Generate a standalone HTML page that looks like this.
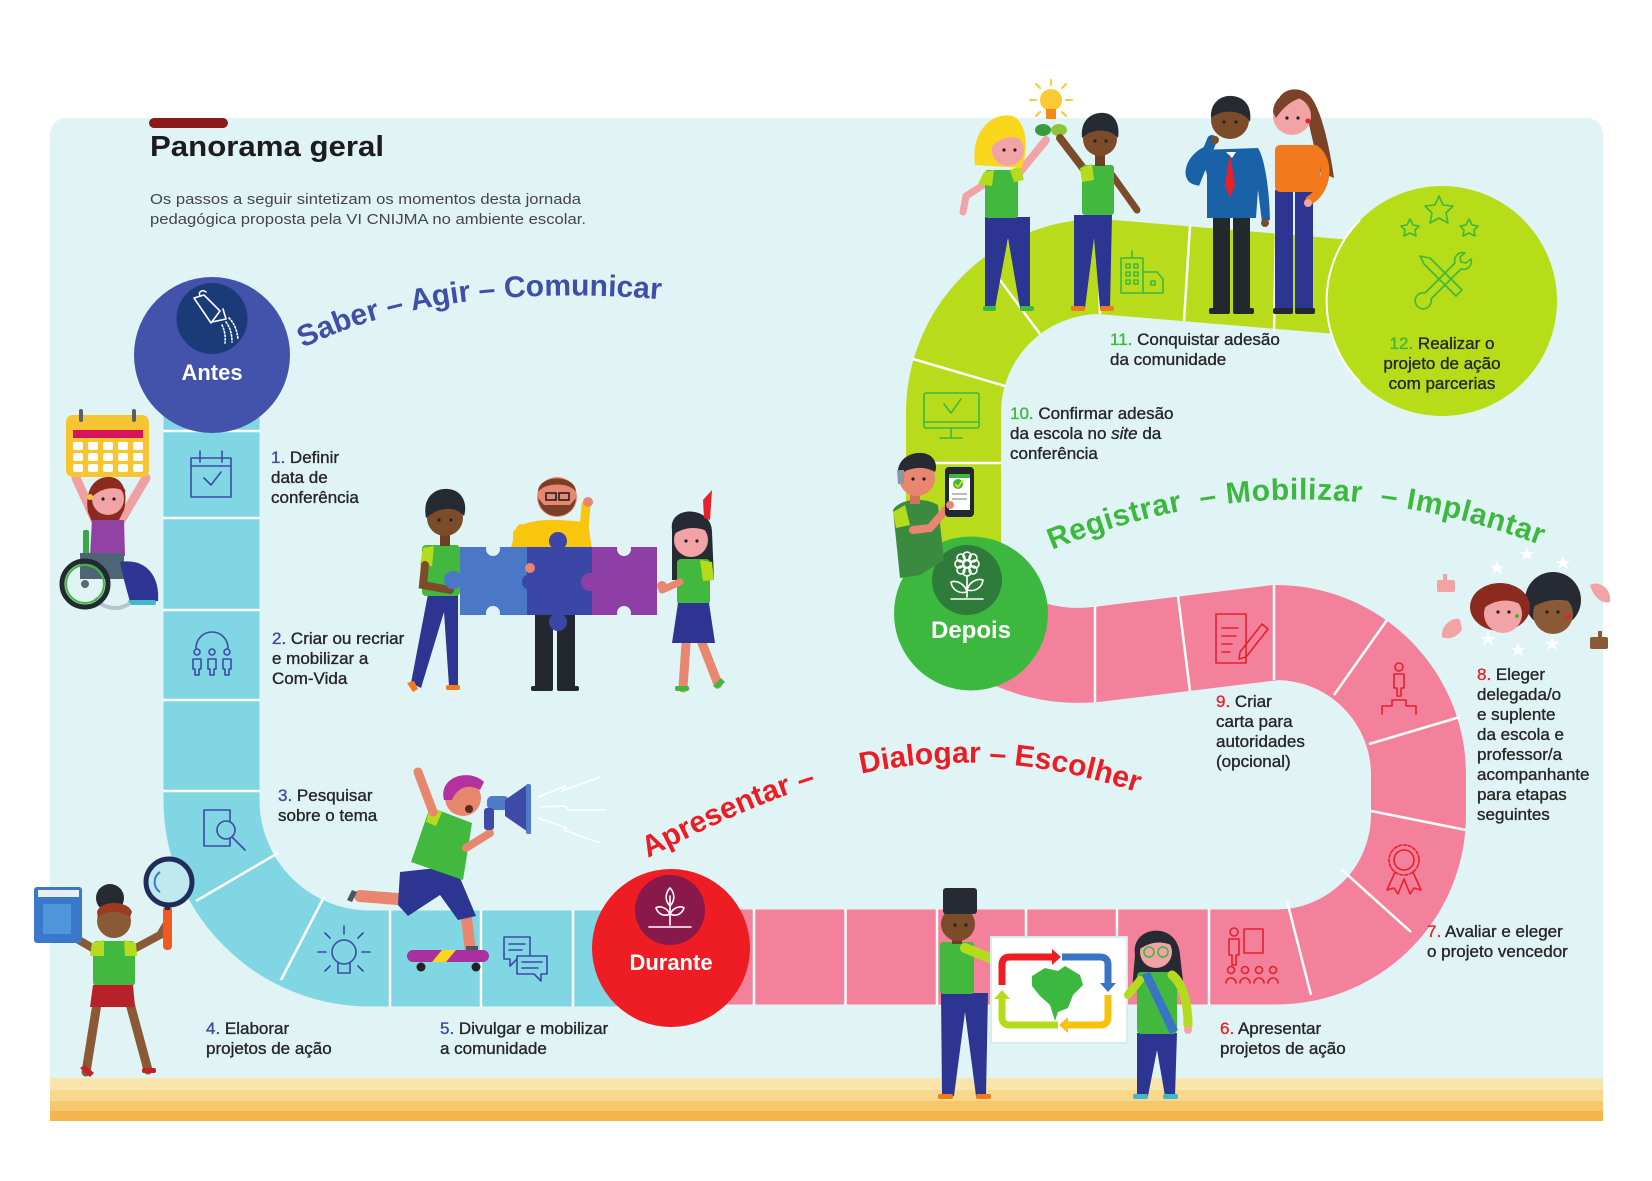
<!DOCTYPE html>
<html><head><meta charset="utf-8"><style>
html,body{margin:0;padding:0;background:#fff;}
svg{display:block;}
text{font-family:"Liberation Sans",Arial,sans-serif;}
.lb{font-size:17px;fill:#262626;stroke:#262626;stroke-width:0.35;}
.bl{fill:#3d4aa6;stroke:#3d4aa6;}
.rd{fill:#ec2027;stroke:#ec2027;}
.gr{fill:#3db83f;stroke:#3db83f;}
.ic{fill:none;stroke:#3d4aa6;stroke-width:1.6;stroke-linejoin:round;stroke-linecap:round;}
.icr{fill:none;stroke:#e8202a;stroke-width:1.6;stroke-linejoin:round;stroke-linecap:round;}
.icg{fill:none;stroke:#3db83f;stroke-width:1.6;stroke-linejoin:round;stroke-linecap:round;}
.icw{fill:none;stroke:#fff;stroke-width:1.6;stroke-linejoin:round;stroke-linecap:round;}
.dv{stroke:#ffffff;stroke-width:2.5;}
</style></head><body>
<svg width="1652" height="1181" viewBox="0 0 1652 1181" xmlns="http://www.w3.org/2000/svg">
<!-- panel -->
<rect x="50" y="118" width="1553" height="1003" rx="16" fill="#e0f4f5"/>
<rect x="50" y="1078" width="1553" height="12" fill="#f9e5ab"/>
<rect x="50" y="1090" width="1553" height="11" fill="#f7d88c"/>
<rect x="50" y="1101" width="1553" height="10" fill="#f5c86c"/>
<rect x="50" y="1111" width="1553" height="10" fill="#f3b54c"/>

<!-- title -->
<rect x="149" y="118" width="79" height="10" rx="5" fill="#8b1a1e"/>
<text x="150" y="156" font-size="29" font-weight="bold" fill="#1c1c1c" textLength="234" lengthAdjust="spacingAndGlyphs">Panorama geral</text>
<text x="150" y="204" font-size="15" fill="#454545" textLength="431" lengthAdjust="spacingAndGlyphs">Os passos a seguir sintetizam os momentos desta jornada</text>
<text x="150" y="224" font-size="15" fill="#454545" textLength="436" lengthAdjust="spacingAndGlyphs">pedagógica proposta pela VI CNIJMA no ambiente escolar.</text>

<!-- paths -->
<path d="M211.5 380 L211.5 800 A158.5 158.5 0 0 0 370 958.5 L700 958.5" stroke="#80d6e2" stroke-width="96" fill="none"/>
<path d="M671 957 L1276 957 A142.5 142.5 0 0 0 1418.5 814.5 L1418.5 775 A142.5 142.5 0 0 0 1276 632.5 L1100 654 C1060 659 1020 652 971 618" stroke="#f4819b" stroke-width="95" fill="none"/>
<path d="M953.5 600 L953.5 413 A146.5 146.5 0 0 1 1100 266.5 L1380 290" stroke="#b8dc1b" stroke-width="95" fill="none"/>

<!-- blue dividers -->
<g class="dv">
<line x1="163" y1="431" x2="260" y2="431"/>
<line x1="163" y1="518" x2="260" y2="518"/>
<line x1="163" y1="610" x2="260" y2="610"/>
<line x1="163" y1="700" x2="260" y2="700"/>
<line x1="163" y1="791" x2="260" y2="791"/>
<line x1="278" y1="853" x2="196" y2="901"/>
<line x1="324" y1="897" x2="281" y2="980"/>
<line x1="390" y1="910" x2="390" y2="1007"/>
<line x1="481" y1="910" x2="481" y2="1007"/>
<line x1="573" y1="910" x2="573" y2="1007"/>
<!-- pink -->
<line x1="754" y1="909" x2="754" y2="1005"/>
<line x1="845.5" y1="909" x2="845.5" y2="1005"/>
<line x1="937" y1="909" x2="937" y2="1005"/>
<line x1="1026" y1="909" x2="1026" y2="1005"/>
<line x1="1117" y1="909" x2="1117" y2="1005"/>
<line x1="1209" y1="909" x2="1209" y2="1005"/>
<line x1="1287" y1="901" x2="1311" y2="995"/>
<line x1="1341" y1="869" x2="1411" y2="932"/>
<line x1="1371" y1="811" x2="1466" y2="830"/>
<line x1="1369" y1="744" x2="1460" y2="717"/>
<line x1="1334" y1="695" x2="1387" y2="620"/>
<line x1="1274" y1="585" x2="1274" y2="680"/>
<line x1="1178" y1="596" x2="1190" y2="691"/>
<line x1="1095" y1="606" x2="1095" y2="702"/>
<!-- green -->
<line x1="905" y1="463" x2="1001" y2="463"/>
<line x1="913" y1="359" x2="1005" y2="386"/>
<line x1="997" y1="276" x2="1040" y2="334"/>
<line x1="1098" y1="220" x2="1100" y2="314"/>
<line x1="1190" y1="226" x2="1184" y2="321"/>
<line x1="1276" y1="233" x2="1274" y2="331"/>
</g>

<!-- blue icons -->
<g class="ic">
<rect x="191" y="458" width="40" height="39"/><line x1="191" y1="466" x2="231" y2="466"/>
<line x1="200" y1="451" x2="200" y2="462"/><line x1="222" y1="451" x2="222" y2="462"/>
<polyline points="204,478 211,485 221,472"/>
<path d="M196 648 A16 16 0 0 1 228 648"/>
<circle cx="197" cy="652" r="3"/><circle cx="212" cy="652" r="3"/><circle cx="227" cy="652" r="3"/>
<path d="M193 659 h8 v10 h-2 v6 h-4 v-6 h-2z"/><path d="M208 659 h8 v10 h-2 v6 h-4 v-6 h-2z"/><path d="M223 659 h8 v10 h-2 v6 h-4 v-6 h-2z"/>
<rect x="204" y="810" width="26" height="36"/><circle cx="226" cy="830" r="9" fill="#80d6e2"/><line x1="232" y1="837" x2="245" y2="850"/>
<circle cx="344" cy="952" r="12"/><path d="M338 963 v10 h12 v-10"/><line x1="344" y1="926" x2="344" y2="934"/>
<line x1="318" y1="952" x2="326" y2="952"/><line x1="362" y1="952" x2="370" y2="952"/>
<line x1="325" y1="933" x2="330" y2="938"/><line x1="363" y1="933" x2="358" y2="938"/>
<line x1="325" y1="971" x2="330" y2="966"/><line x1="363" y1="971" x2="358" y2="966"/>
<path d="M504 937 h26 v22 h-13 l-7 7 v-7 h-6z"/><line x1="509" y1="944" x2="525" y2="944"/><line x1="509" y1="950" x2="522" y2="950"/>
<path d="M517 956 h30 v18 h-6 v7 l-7 -7 h-17z" fill="#80d6e2"/><line x1="522" y1="962" x2="542" y2="962"/><line x1="522" y1="968" x2="538" y2="968"/>
</g>

<!-- pink icons -->
<g class="icr">
<rect x="1216" y="614" width="30" height="49"/>
<line x1="1222" y1="628" x2="1238" y2="628"/><line x1="1222" y1="636" x2="1236" y2="636"/><line x1="1222" y1="644" x2="1232" y2="644"/><line x1="1222" y1="652" x2="1230" y2="652"/>
<path d="M1240 652 l22 -28 l6 5 l-22 28 l-7 2z"/>
<circle cx="1399" cy="667" r="4"/><path d="M1394 674 h10 v14 h-3 v8 h-4 v-8 h-3z"/>
<path d="M1382 714 v-8 h10 v-6 h14 v6 h10 v8"/>
<circle cx="1404" cy="860" r="10"/><circle cx="1404" cy="860" r="15" stroke-dasharray="3 2"/>
<path d="M1395 872 l-8 18 l7 -2 l4 6 l6 -15"/><path d="M1413 872 l8 18 l-7 -2 l-4 6 l-6 -15"/>
<circle cx="1234" cy="932" r="4"/><path d="M1229 939 h10 v16 h-3 v10 h-4 v-10 h-3z"/>
<rect x="1244" y="929" width="19" height="24"/>
<circle cx="1231" cy="970" r="3.5"/><circle cx="1245" cy="970" r="3.5"/><circle cx="1259" cy="970" r="3.5"/><circle cx="1273" cy="970" r="3.5"/>
<path d="M1226 983 a5 5 0 0 1 10 0 M1240 983 a5 5 0 0 1 10 0 M1254 983 a5 5 0 0 1 10 0 M1268 983 a5 5 0 0 1 10 0"/>
</g>

<!-- green icons -->
<g class="icg">
<rect x="1121" y="258" width="22" height="35"/><line x1="1132" y1="251" x2="1132" y2="258"/>
<rect x="1126" y="264" width="4" height="4"/><rect x="1134" y="264" width="4" height="4"/>
<rect x="1126" y="272" width="4" height="4"/><rect x="1134" y="272" width="4" height="4"/>
<rect x="1126" y="280" width="4" height="4"/><rect x="1134" y="280" width="4" height="4"/>
<path d="M1143 272 h14 l6 7 v14 h-20"/><rect x="1151" y="281" width="4" height="4"/>
<rect x="924" y="393" width="55" height="35" rx="2"/><line x1="924" y1="422" x2="979" y2="422"/>
<line x1="951" y1="428" x2="951" y2="437"/><line x1="940" y1="438" x2="962" y2="438"/>
<polyline points="944,404 951,413 961,399"/>
</g>

<!-- circles -->
<circle cx="212" cy="355" r="78" fill="#4352aa"/>
<circle cx="212" cy="318.5" r="35.5" fill="#1b3a78"/>
<g class="icw">
<path d="M194 298 l10 -3 l16 16 l-9 12 z"/>
<path d="M212 322 l14 -3 l-3 -10"/>
<path d="M200 296 c-2 -4 2 -7 6 -4"/>
<path d="M226 322 q6 8 6 20" stroke-dasharray="1.5 2"/>
<path d="M222 325 q4 8 3 18" stroke-dasharray="1.5 2"/>
<path d="M229 318 q8 8 9 22" stroke-dasharray="1.5 2"/>
</g>
<text x="212" y="380" font-size="22" font-weight="bold" fill="#fff" text-anchor="middle">Antes</text>

<circle cx="671" cy="948" r="79" fill="#ee1d24"/>
<circle cx="670" cy="910" r="35" fill="#88194a"/>
<g class="icw">
<line x1="670" y1="896" x2="670" y2="925"/>
<path d="M670 906 c-6 -6 -4 -14 0 -18 c4 4 6 12 0 18z"/>
<path d="M670 914 c-4 -8 -12 -8 -14 -6 c2 6 8 9 14 6z"/>
<path d="M670 914 c4 -8 12 -8 14 -6 c-2 6 -8 9 -14 6z"/>
<line x1="649" y1="927" x2="691" y2="927"/>
</g>
<text x="671" y="970" font-size="22" font-weight="bold" fill="#fff" text-anchor="middle">Durante</text>

<circle cx="971" cy="613.5" r="77" fill="#3db83f"/>
<circle cx="967" cy="580" r="35" fill="#2f7b3b"/>
<g class="icw">
<circle cx="967" cy="564" r="3.5"/>
<circle cx="967" cy="556" r="4"/><circle cx="967" cy="572" r="4"/><circle cx="959" cy="564" r="4"/><circle cx="975" cy="564" r="4"/>
<circle cx="961" cy="558" r="4"/><circle cx="973" cy="558" r="4"/><circle cx="961" cy="570" r="4"/><circle cx="973" cy="570" r="4"/>
<line x1="967" y1="576" x2="967" y2="597"/>
<path d="M967 592 c-2 -8 -10 -12 -16 -10 c1 8 8 12 16 10z"/>
<path d="M967 590 c2 -8 10 -12 16 -10 c-1 8 -8 12 -16 10z"/>
<line x1="951" y1="599" x2="983" y2="599"/>
</g>
<text x="971" y="638" font-size="24" font-weight="bold" fill="#fff" text-anchor="middle">Depois</text>

<circle cx="1442" cy="301" r="115" fill="#b7dc18"/>
<path d="M1360 220 A115 115 0 0 0 1360 382" stroke="#fff" stroke-width="2" fill="none"/>
<g class="icg">
<path d="M1439 196 l4 9 l10 1 l-7 7 l2 10 l-9 -5 l-9 5 l2 -10 l-7 -7 l10 -1z"/>
<path d="M1410 219 l3 6 l6 1 l-4 4 l1 6 l-6 -3 l-6 3 l1 -6 l-4 -4 l6 -1z"/>
<path d="M1469 219 l3 6 l6 1 l-4 4 l1 6 l-6 -3 l-6 3 l1 -6 l-4 -4 l6 -1z"/>
<path d="M1420 256 l10 2 l32 32 l-6 6 l-32 -32z"/>
<path d="M1465 253 a8 8 0 0 0 -10 10 l-30 30 a8 8 0 1 0 6 6 l30 -30 a8 8 0 0 0 10 -10 l-5 4 l-5 -1 l-1 -5z"/>
</g>

<!-- curved titles -->
<defs>
<path id="p1" d="M303 348 Q440 280 670 300"/>
<path id="p2" d="M1052 550 Q1295 450 1548 548"/>
<path id="p3" d="M648 858 C780 790 930 720 1145 795"/>
</defs>
<text font-size="30" font-weight="bold" fill="#3f4fa8"><textPath href="#p1">Saber – Agir – Comunicar</textPath></text>
<text font-size="30" font-weight="bold" fill="#3db83f" letter-spacing="0.6"><textPath href="#p2">Registrar&#160;&#160;– Mobilizar&#160;&#160;– Implantar</textPath></text>
<text font-size="30" font-weight="bold" fill="#ec1c24"><textPath href="#p3">Apresentar –</textPath></text>
<text font-size="30" font-weight="bold" fill="#ec1c24"><textPath href="#p3" startOffset="230">Dialogar – Escolher</textPath></text>

<!-- labels -->
<text class="lb"><tspan x="271" y="463"><tspan class="bl">1.</tspan> Definir</tspan><tspan x="271" y="483">data de</tspan><tspan x="271" y="503">conferência</tspan></text>
<text class="lb"><tspan x="272" y="644"><tspan class="bl">2.</tspan> Criar ou recriar</tspan><tspan x="272" y="664">e mobilizar a</tspan><tspan x="272" y="684">Com-Vida</tspan></text>
<text class="lb"><tspan x="278" y="801"><tspan class="bl">3.</tspan> Pesquisar</tspan><tspan x="278" y="821">sobre o tema</tspan></text>
<text class="lb"><tspan x="206" y="1034"><tspan class="bl">4.</tspan> Elaborar</tspan><tspan x="206" y="1054">projetos de ação</tspan></text>
<text class="lb"><tspan x="440" y="1034"><tspan class="bl">5.</tspan> Divulgar e mobilizar</tspan><tspan x="440" y="1054">a comunidade</tspan></text>
<text class="lb"><tspan x="1220" y="1034"><tspan class="rd">6.</tspan> Apresentar</tspan><tspan x="1220" y="1054">projetos de ação</tspan></text>
<text class="lb"><tspan x="1427" y="937"><tspan class="rd">7.</tspan> Avaliar e eleger</tspan><tspan x="1427" y="957">o projeto vencedor</tspan></text>
<text class="lb"><tspan x="1477" y="680"><tspan class="rd">8.</tspan> Eleger</tspan><tspan x="1477" y="700">delegada/o</tspan><tspan x="1477" y="720">e suplente</tspan><tspan x="1477" y="740">da escola e</tspan><tspan x="1477" y="760">professor/a</tspan><tspan x="1477" y="780">acompanhante</tspan><tspan x="1477" y="800">para etapas</tspan><tspan x="1477" y="820">seguintes</tspan></text>
<text class="lb"><tspan x="1216" y="707"><tspan class="rd">9.</tspan> Criar</tspan><tspan x="1216" y="727">carta para</tspan><tspan x="1216" y="747">autoridades</tspan><tspan x="1216" y="767">(opcional)</tspan></text>
<text class="lb"><tspan x="1010" y="419"><tspan class="gr">10.</tspan> Confirmar adesão</tspan><tspan x="1010" y="439">da escola no <tspan font-style="italic">site</tspan> da</tspan><tspan x="1010" y="459">conferência</tspan></text>
<text class="lb"><tspan x="1110" y="345"><tspan class="gr">11.</tspan> Conquistar adesão</tspan><tspan x="1110" y="365">da comunidade</tspan></text>
<text class="lb" text-anchor="middle"><tspan x="1442" y="349"><tspan class="gr">12.</tspan> Realizar o</tspan><tspan x="1442" y="369">projeto de ação</tspan><tspan x="1442" y="389">com parcerias</tspan></text>

<!-- wheelchair girl -->
<g>
<path d="M96 522 L76 478" stroke="#f0a0a0" stroke-width="9" stroke-linecap="round"/>
<path d="M120 522 L146 478" stroke="#f0a0a0" stroke-width="9" stroke-linecap="round"/>
<rect x="66" y="415" width="83" height="62" rx="7" fill="#f6c531"/>
<rect x="79" y="409" width="4" height="13" rx="2" fill="#59606b"/>
<rect x="132" y="409" width="4" height="13" rx="2" fill="#59606b"/>
<rect x="73" y="430" width="70" height="8" fill="#d7145b"/>
<g fill="#fff">
<rect x="73" y="442" width="10" height="8" rx="2"/><rect x="88" y="442" width="10" height="8" rx="2"/><rect x="103" y="442" width="10" height="8" rx="2"/><rect x="118" y="442" width="10" height="8" rx="2"/><rect x="133" y="442" width="10" height="8" rx="2"/>
<rect x="73" y="453" width="10" height="8" rx="2"/><rect x="88" y="453" width="10" height="8" rx="2"/><rect x="103" y="453" width="10" height="8" rx="2"/><rect x="118" y="453" width="10" height="8" rx="2"/><rect x="133" y="453" width="10" height="8" rx="2"/>
<rect x="73" y="464" width="10" height="8" rx="2"/><rect x="88" y="464" width="10" height="8" rx="2"/><rect x="103" y="464" width="10" height="8" rx="2"/><rect x="118" y="464" width="10" height="8" rx="2"/><rect x="133" y="464" width="10" height="8" rx="2"/>
</g>
<path d="M88 512 C84 488 96 476 110 477 C124 478 128 494 124 510 L118 522 L92 522 Z" fill="#8c2a20"/>
<circle cx="108" cy="499" r="16" fill="#f1a3a5"/>
<path d="M92 494 C96 478 120 476 126 492 C116 486 102 487 92 497 Z" fill="#8c2a20"/>
<circle cx="103" cy="499" r="1.6" fill="#222"/><circle cx="114" cy="499" r="1.6" fill="#222"/>
<circle cx="90" cy="497" r="3" fill="#f6c531"/>
<path d="M92 520 L124 520 L125 556 L90 556 Z" fill="#9241a4"/>
<rect x="83" y="530" width="6" height="40" rx="2" fill="#3aa845"/>
<rect x="80" y="553" width="44" height="26" fill="#4e6575"/>
<path d="M120 562 C145 558 160 575 158 601 L130 602 L124 580 Z" fill="#2e3592"/>
<rect x="128" y="600" width="28" height="5" rx="2" fill="#41b8c9"/>
<path d="M95 598 A25 25 0 0 0 130 603" stroke="#b8c4cc" stroke-width="4" fill="none"/>
<circle cx="85" cy="584" r="23" fill="none" stroke="#222a30" stroke-width="5"/>
<circle cx="85" cy="584" r="19" fill="none" stroke="#3db83f" stroke-width="2"/>
<circle cx="85" cy="584" r="4" fill="#5a6775"/>
</g>

<!-- puzzle group -->
<g>
<!-- boy -->
<path d="M428 594 L458 594 L458 686 L449 686 L444 612 L421 688 L411 683 Z" fill="#2d3592"/>
<rect x="446" y="685" width="14" height="5" rx="2" fill="#f07a1c"/>
<path d="M407 683 l6 9 l5 -3 l-4 -8z" fill="#f07a1c"/>
<rect x="422" y="545" width="38" height="51" rx="4" fill="#43b83e"/>
<path d="M423 548 L434 546 L432 566 L420 565 Z" fill="#b5dc1c"/>
<path d="M425 565 L423 585 L450 590" stroke="#7b4b2a" stroke-width="8" fill="none" stroke-linecap="round"/>
<rect x="440" y="530" width="10" height="16" fill="#6b3f22"/>
<circle cx="445" cy="518" r="18" fill="#7b4b2a"/>
<path d="M426 518 C422 496 436 488 448 489 C462 490 468 503 464 516 C456 506 440 506 426 518Z" fill="#262b33"/>
<circle cx="439" cy="520" r="1.6" fill="#222"/><circle cx="451" cy="520" r="1.6" fill="#222"/>
<!-- man -->
<rect x="535" y="612" width="18" height="76" fill="#23282e"/>
<rect x="557" y="612" width="18" height="76" fill="#23282e"/>
<rect x="531" y="686" width="22" height="5" rx="2" fill="#23282e"/><rect x="557" y="686" width="22" height="5" rx="2" fill="#23282e"/>
<path d="M513 532 C520 522 540 519 560 520 L588 522 L592 550 L513 550 Z" fill="#fac50d"/>
<path d="M522 530 L517 548 L530 568" stroke="#fac50d" stroke-width="12" fill="none" stroke-linecap="round"/>
<path d="M584 530 L586 505" stroke="#fac50d" stroke-width="9" stroke-linecap="round"/>
<circle cx="588" cy="502" r="5" fill="#e8866f"/>
<circle cx="557" cy="497" r="20" fill="#e8866f"/>
<path d="M538 498 C540 522 574 522 576 498 L570 505 L544 505 Z" fill="#7a4027"/>
<path d="M538 492 C538 474 576 474 576 492 C570 482 545 482 538 492Z" fill="#7a4027"/>
<rect x="546" y="493" width="10" height="7" fill="none" stroke="#222" stroke-width="1.6"/>
<rect x="559" y="493" width="10" height="7" fill="none" stroke="#222" stroke-width="1.6"/>
<!-- girl -->
<path d="M672 530 C668 505 712 505 712 532 L714 580 L672 580 Z" fill="#262b33"/>
<path d="M703 500 L712 490 L710 520 L704 518Z" fill="#e8202a"/>
<circle cx="691" cy="540" r="17" fill="#f1a3a5"/>
<path d="M673 535 C676 518 706 516 710 533 C700 526 684 526 673 535Z" fill="#262b33"/>
<circle cx="686" cy="541" r="1.6" fill="#222"/><circle cx="697" cy="541" r="1.6" fill="#222"/>
<path d="M686 643 L683 688" stroke="#e8866f" stroke-width="9" stroke-linecap="round"/>
<path d="M702 643 L718 684" stroke="#e8866f" stroke-width="9" stroke-linecap="round"/>
<rect x="675" y="686" width="14" height="5" rx="2" fill="#3db83f"/>
<path d="M713 686 l8 -8 l4 4 l-8 7z" fill="#3db83f"/>
<rect x="677" y="559" width="33" height="46" rx="4" fill="#43b83e"/>
<path d="M700 560 L712 562 L714 580 L703 581 Z" fill="#b5dc1c"/>
<path d="M680 582 L662 590" stroke="#e8866f" stroke-width="7" stroke-linecap="round"/>
<path d="M678 603 L709 603 L715 643 L672 643 Z" fill="#2d3592"/>
<!-- puzzle pieces -->
<rect x="460" y="547" width="67" height="68" fill="#4a77c6"/>
<rect x="527" y="547" width="65" height="68" fill="#3a47a6"/>
<rect x="592" y="547" width="65" height="68" fill="#8d3fa6"/>
<circle cx="453" cy="580" r="9" fill="#4a77c6"/>
<circle cx="493" cy="549" r="7" fill="#e0f4f5"/><circle cx="493" cy="613" r="7" fill="#e0f4f5"/>
<circle cx="558" cy="541" r="9" fill="#3a47a6"/><circle cx="558" cy="622" r="9" fill="#3a47a6"/>
<circle cx="530" cy="582" r="8" fill="#3a47a6"/>
<circle cx="590" cy="582" r="9" fill="#8d3fa6"/>
<circle cx="624" cy="549" r="7" fill="#e0f4f5"/><circle cx="624" cy="613" r="7" fill="#e0f4f5"/>
<circle cx="530" cy="568" r="5" fill="#e8866f"/>
<circle cx="662" cy="586" r="5" fill="#e8866f"/>
</g>

<!-- skateboard boy -->
<g>
<path d="M410 900 L360 896" stroke="#e8866f" stroke-width="12" stroke-linecap="round"/>
<path d="M352 890 l-5 10 l5 2 l5 -10z" fill="#4a5560"/>
<path d="M465 905 L470 948" stroke="#e8866f" stroke-width="11" stroke-linecap="round"/>
<rect x="466" y="946" width="12" height="5" fill="#4a5560"/>
<path d="M400 872 L455 866 L476 916 L458 920 L440 895 L408 916 L398 905 Z" fill="#2d3592"/>
<path d="M430 807 L472 823 L463 880 L411 862 Z" fill="#43b83e"/>
<path d="M430 807 L442 812 L436 826 L426 822 Z" fill="#b5dc1c"/>
<path d="M433 812 L418 772" stroke="#e8866f" stroke-width="9" stroke-linecap="round"/>
<path d="M466 848 L490 833" stroke="#e8866f" stroke-width="8" stroke-linecap="round"/>
<circle cx="463" cy="798" r="18" fill="#e8866f"/>
<path d="M444 800 C438 776 470 768 484 782 L480 790 C470 784 458 786 452 800 Z" fill="#b3329f"/>
<circle cx="469" cy="809" r="4" fill="#5a2a1a"/>
<rect x="487" y="796" width="22" height="14" rx="5" fill="#4f7ac9"/>
<rect x="484" y="808" width="10" height="22" rx="3" fill="#3d4aa6"/>
<path d="M505 800 L528 784 L531 834 L505 816 Z" fill="#3d4aa6"/>
<rect x="526" y="784" width="5" height="50" rx="2" fill="#4f7ac9"/>
<g stroke="#fff" stroke-width="1.5" fill="none">
<polyline points="538,797 565,786 562,791 600,777"/>
<polyline points="541,807 565,806 568,810 606,810"/>
<polyline points="538,818 567,828 564,830 600,843"/>
</g>
<rect x="407" y="950" width="82" height="12" rx="6" fill="#a8319f"/>
<path d="M432 962 L442 950 L456 950 L446 962 Z" fill="#f9d71c"/>
<circle cx="421" cy="967" r="4.5" fill="#222"/><circle cx="476" cy="967" r="4.5" fill="#222"/>
</g>

<!-- girl with book -->
<g>
<path d="M100 985 L86 1072" stroke="#8a5a36" stroke-width="9" stroke-linecap="round"/>
<path d="M125 985 L148 1070" stroke="#8a5a36" stroke-width="9" stroke-linecap="round"/>
<path d="M80 1068 l10 9 l4 -4 l-9 -8z" fill="#c8202a"/>
<rect x="142" y="1068" width="14" height="5" rx="2" fill="#c8202a"/>
<path d="M96 950 L70 935 L62 915" stroke="#8a5a36" stroke-width="8" fill="none" stroke-linecap="round"/>
<path d="M132 950 L160 935 L166 925" stroke="#8a5a36" stroke-width="8" fill="none" stroke-linecap="round"/>
<rect x="93" y="941" width="42" height="45" rx="4" fill="#43b83e"/>
<path d="M92 943 L104 940 L104 956 L90 956Z" fill="#b5dc1c"/>
<path d="M124 940 L136 943 L137 956 L125 956Z" fill="#b5dc1c"/>
<path d="M93 985 L133 985 L135 1007 L90 1007 Z" fill="#b8202a"/>
<circle cx="114" cy="921" r="17" fill="#8a5a36"/>
<circle cx="110" cy="898" r="14" fill="#262b33"/>
<path d="M97 912 C100 900 128 900 132 912 L130 917 C120 910 104 910 98 918Z" fill="#9a3b22"/>
<rect x="34" y="887" width="48" height="56" rx="3" fill="#3a78c9"/>
<rect x="38" y="890" width="41" height="7" fill="#e8eef4"/>
<rect x="43" y="904" width="28" height="30" fill="#4f95dc"/>
<rect x="163" y="906" width="9" height="44" rx="4" fill="#f05a22"/>
<rect x="165" y="900" width="5" height="10" fill="#1f2d5a"/>
<circle cx="169" cy="882" r="23" fill="#bfe8ef" stroke="#1f2d5a" stroke-width="5"/>
<path d="M160 872 A12 12 0 0 0 160 892" stroke="#3a78c9" stroke-width="2" fill="none"/>
</g>

<!-- top characters -->
<g>
<!-- bulb -->
<g stroke="#fbc934" stroke-width="2" stroke-linecap="round">
<line x1="1051" y1="80" x2="1051" y2="85"/><line x1="1036" y1="100" x2="1030" y2="100"/><line x1="1066" y1="100" x2="1072" y2="100"/>
<line x1="1040" y1="88" x2="1036" y2="84"/><line x1="1062" y1="88" x2="1066" y2="84"/>
<line x1="1040" y1="112" x2="1036" y2="116"/><line x1="1062" y1="112" x2="1066" y2="116"/>
</g>
<circle cx="1051" cy="100" r="11" fill="#fbc934"/>
<rect x="1046" y="109" width="10" height="10" fill="#f28a1c"/>
<ellipse cx="1043" cy="130" rx="8" ry="6" fill="#3a9a3e"/><ellipse cx="1059" cy="130" rx="8" ry="6" fill="#8cc43c"/>
<!-- blonde girl -->
<path d="M985 217 L1030 217 L1030 308 L1020 308 L1008 238 L995 308 L985 308 Z" fill="#2d3592"/>
<rect x="983" y="306" width="13" height="5" rx="2" fill="#3db83f"/><rect x="1020" y="306" width="14" height="5" rx="2" fill="#3db83f"/>
<path d="M1015 178 L1046 140" stroke="#f1a3a5" stroke-width="8" stroke-linecap="round"/>
<path d="M988 182 L966 196 L963 212" stroke="#f1a3a5" stroke-width="7" fill="none" stroke-linecap="round"/>
<rect x="985" y="170" width="33" height="48" rx="3" fill="#43b83e"/>
<path d="M984 172 L994 170 L992 186 L978 184Z" fill="#b5dc1c"/>
<path d="M1010 170 L1020 166 L1024 180 L1014 182Z" fill="#b5dc1c"/>
<path d="M975 165 C970 128 995 112 1012 116 C1028 122 1028 150 1022 168 Z" fill="#f9d71c"/>
<circle cx="1008" cy="150" r="16" fill="#f1a3a5"/>
<path d="M992 146 C994 126 1020 124 1024 140 C1012 134 1000 138 992 146Z" fill="#f9d71c"/>
<circle cx="1004" cy="150" r="1.6" fill="#222"/><circle cx="1015" cy="150" r="1.6" fill="#222"/>
<!-- boy -->
<path d="M1074 215 L1112 215 L1110 308 L1100 308 L1094 238 L1085 308 L1074 308 Z" fill="#2d3592"/>
<rect x="1071" y="306" width="14" height="5" rx="2" fill="#f07a1c"/><rect x="1100" y="306" width="14" height="5" rx="2" fill="#f07a1c"/>
<path d="M1086 172 L1060 138" stroke="#7b4b2a" stroke-width="8" stroke-linecap="round"/>
<path d="M1112 175 L1137 210" stroke="#7b4b2a" stroke-width="7" stroke-linecap="round"/>
<rect x="1082" y="165" width="32" height="50" rx="3" fill="#43b83e"/>
<path d="M1080 168 L1092 164 L1094 180 L1082 182Z" fill="#b5dc1c"/>
<rect x="1095" y="150" width="10" height="16" fill="#6b3f22"/>
<circle cx="1100" cy="139" r="17" fill="#7b4b2a"/>
<path d="M1082 138 C1080 118 1094 112 1104 113 C1116 114 1120 126 1118 138 C1110 128 1092 128 1082 138Z" fill="#262b33"/>
<circle cx="1095" cy="141" r="1.6" fill="#222"/><circle cx="1106" cy="141" r="1.6" fill="#222"/>
<!-- man -->
<rect x="1213" y="217" width="17" height="94" fill="#23282e"/><rect x="1233" y="217" width="17" height="94" fill="#23282e"/>
<rect x="1209" y="308" width="21" height="6" rx="2" fill="#23282e"/><rect x="1233" y="308" width="21" height="6" rx="2" fill="#23282e"/>
<path d="M1200 150 L1258 148 C1266 160 1270 200 1270 220 L1262 222 L1258 190 L1256 218 L1207 218 L1207 175 Z" fill="#1a62a8"/>
<path d="M1205 152 C1190 160 1186 178 1196 180 L1212 140" stroke="#1a62a8" stroke-width="10" fill="none" stroke-linecap="round"/>
<path d="M1226 152 L1236 152 L1232 158 Z" fill="#fff"/>
<path d="M1230 154 L1235 185 L1230 198 L1225 185 Z" fill="#e8202a"/>
<circle cx="1265" cy="223" r="4" fill="#7b4b2a"/>
<circle cx="1230" cy="120" r="19" fill="#7b4b2a"/>
<path d="M1211 118 C1210 100 1224 95 1232 96 C1246 97 1252 108 1250 122 C1244 110 1222 108 1211 118Z" fill="#262b33"/>
<circle cx="1224" cy="122" r="1.6" fill="#222"/><circle cx="1236" cy="122" r="1.6" fill="#222"/>
<circle cx="1215" cy="140" r="4" fill="#7b4b2a"/>
<!-- woman -->
<path d="M1278 110 C1274 88 1300 84 1310 96 C1322 110 1330 150 1334 178 L1320 172 L1308 120 Z" fill="#7a4327"/>
<rect x="1275" y="190" width="18" height="121" fill="#2d3592"/><rect x="1295" y="190" width="18" height="121" fill="#2d3592"/>
<rect x="1273" y="308" width="20" height="6" rx="2" fill="#23282e"/><rect x="1295" y="308" width="20" height="6" rx="2" fill="#23282e"/>
<rect x="1275" y="145" width="45" height="47" rx="5" fill="#f27a1c"/>
<path d="M1318 152 C1330 165 1326 190 1310 200" stroke="#f27a1c" stroke-width="9" fill="none" stroke-linecap="round"/>
<circle cx="1308" cy="203" r="4" fill="#f1a3a5"/>
<circle cx="1292" cy="116" r="19" fill="#f1a3a5"/>
<path d="M1273 112 C1274 92 1296 88 1308 96 C1300 98 1288 100 1276 118Z" fill="#7a4327"/>
<circle cx="1287" cy="118" r="1.6" fill="#222"/><circle cx="1298" cy="118" r="1.6" fill="#222"/>
<circle cx="1308" cy="121" r="2.5" fill="#e8202a"/>
</g>

<!-- phone boy -->
<g>
<path d="M893 510 C900 498 925 497 938 505 L944 560 L920 575 L900 578 Z" fill="#3a8b40"/>
<path d="M893 512 L905 505 L910 525 L896 528Z" fill="#b5dc1c"/>
<path d="M913 530 L930 528 L950 505" stroke="#e8866f" stroke-width="8" fill="none" stroke-linecap="round"/>
<rect x="945" y="467" width="29" height="50" rx="4" fill="#23282e"/>
<rect x="949" y="474" width="21" height="36" fill="#fff"/>
<rect x="949" y="474" width="21" height="4" fill="#3db83f"/>
<circle cx="958" cy="484" r="5" fill="#3db83f"/>
<polyline points="955,484 958,487 963,480" fill="none" stroke="#f9d71c" stroke-width="1.6"/>
<rect x="952" y="493" width="15" height="2" fill="#bbb"/><rect x="952" y="498" width="15" height="2" fill="#bbb"/>
<circle cx="950" cy="505" r="4" fill="#e8866f"/>
<rect x="910" y="490" width="10" height="14" fill="#d4735d"/>
<circle cx="917" cy="478" r="18" fill="#e8866f"/>
<path d="M898 476 C896 458 912 452 922 453 C935 454 938 466 935 472 C925 466 910 466 898 476Z" fill="#262b33"/>
<path d="M897 470 L904 470 L904 484 L898 484Z" fill="#8a97a0"/>
<circle cx="913" cy="479" r="1.6" fill="#222"/><circle cx="924" cy="479" r="1.6" fill="#222"/>
</g>

<!-- faces 8 -->
<g>
<g fill="#fff">
<path d="M1527 547 l2 5 l5 0 l-4 3 l2 5 l-5 -3 l-5 3 l2 -5 l-4 -3 l5 0z"/>
<path d="M1497 561 l2 5 l5 0 l-4 3 l2 5 l-5 -3 l-5 3 l2 -5 l-4 -3 l5 0z"/>
<path d="M1563 556 l2 5 l5 0 l-4 3 l2 5 l-5 -3 l-5 3 l2 -5 l-4 -3 l5 0z"/>
<path d="M1488 632 l2 5 l5 0 l-4 3 l2 5 l-5 -3 l-5 3 l2 -5 l-4 -3 l5 0z"/>
<path d="M1518 643 l2 5 l5 0 l-4 3 l2 5 l-5 -3 l-5 3 l2 -5 l-4 -3 l5 0z"/>
<path d="M1552 637 l2 5 l5 0 l-4 3 l2 5 l-5 -3 l-5 3 l2 -5 l-4 -3 l5 0z"/>
</g>
<rect x="1437" y="580" width="18" height="12" rx="2" fill="#f1a3a5"/><rect x="1443" y="574" width="4" height="8" fill="#f1a3a5"/>
<path d="M1442 637 C1440 625 1455 615 1460 620 L1462 630 C1456 638 1448 640 1442 637Z" fill="#f1a3a5"/>
<path d="M1590 585 C1598 580 1612 588 1610 602 C1602 604 1594 598 1590 585Z" fill="#f1a3a5"/>
<rect x="1590" y="637" width="18" height="12" rx="2" fill="#8a5a36"/><rect x="1598" y="631" width="4" height="8" fill="#8a5a36"/>
<circle cx="1553" cy="600" r="28" fill="#262b33"/>
<circle cx="1553" cy="614" r="20" fill="#8a5a36"/>
<path d="M1535 606 C1540 592 1560 588 1572 602 C1560 598 1545 600 1535 606Z" fill="#262b33"/>
<ellipse cx="1500" cy="607" rx="30" ry="24" fill="#8c2a20"/>
<circle cx="1503" cy="614" r="19" fill="#f1a3a5"/>
<path d="M1484 608 C1490 592 1514 590 1520 604 C1508 598 1495 600 1484 608Z" fill="#8c2a20"/>
<circle cx="1498" cy="612" r="1.6" fill="#222"/><circle cx="1509" cy="612" r="1.6" fill="#222"/>
<circle cx="1547" cy="612" r="1.6" fill="#222"/><circle cx="1558" cy="612" r="1.6" fill="#222"/>
<circle cx="1517" cy="616" r="2" fill="#3db83f"/><circle cx="1568" cy="617" r="2.5" fill="#e8202a"/>
</g>

<!-- poster group -->
<g>
<!-- boy -->
<path d="M941 993 L988 993 L986 1096 L976 1096 L965 1012 L954 1096 L942 1096 Z" fill="#2d3592"/>
<rect x="938" y="1094" width="15" height="5" rx="2" fill="#f07a1c"/><rect x="976" y="1094" width="15" height="5" rx="2" fill="#f07a1c"/>
<rect x="940" y="942" width="34" height="52" rx="3" fill="#43b83e"/>
<path d="M965 948 L995 960" stroke="#b5dc1c" stroke-width="10" stroke-linecap="round"/>
<circle cx="1000" cy="958" r="5" fill="#7b4b2a"/>
<rect x="952" y="932" width="10" height="12" fill="#6b3f22"/>
<circle cx="958" cy="924" r="17" fill="#7b4b2a"/>
<rect x="943" y="888" width="34" height="26" rx="3" fill="#262b33"/>
<circle cx="955" cy="925" r="1.6" fill="#222"/><circle cx="966" cy="925" r="1.6" fill="#222"/>
<!-- poster -->
<rect x="991" y="937" width="136" height="106" fill="#fff" stroke="#d6eaef" stroke-width="2"/>
<g fill="none" stroke-width="7">
<path d="M1002 985 L1002 965 Q1002 957 1010 957 L1052 957" stroke="#ee1d24"/>
<path d="M1062 957 L1100 957 Q1108 957 1108 965 L1108 983" stroke="#3a74c4"/>
<path d="M1108 995 L1108 1017 Q1108 1025 1100 1025 L1068 1025" stroke="#f8c10a"/>
<path d="M1058 1025 L1010 1025 Q1002 1025 1002 1017 L1002 999" stroke="#b5dc1c"/>
</g>
<polygon points="1052,949 1061,957 1052,965" fill="#ee1d24"/>
<polygon points="1100,983 1108,992 1116,983" fill="#3a74c4"/>
<polygon points="1068,1017 1059,1025 1068,1033" fill="#f8c10a"/>
<polygon points="994,999 1002,990 1010,999" fill="#b5dc1c"/>
<polygon points="1032,976 1045,968 1058,971 1065,966 1080,975 1083,985 1073,995 1068,1008 1058,1012 1055,1021 1050,1005 1040,996 1032,986" fill="#3db83f"/>
<!-- girl -->
<path d="M1135 955 C1130 925 1178 920 1180 955 L1184 990 L1132 990 Z" fill="#262b33"/>
<path d="M1137 1033 L1177 1033 L1175 1096 L1165 1096 L1157 1050 L1148 1096 L1137 1096 Z" fill="#2d3592"/>
<rect x="1133" y="1094" width="15" height="5" rx="2" fill="#41b8c9"/><rect x="1163" y="1094" width="15" height="5" rx="2" fill="#41b8c9"/>
<rect x="1137" y="972" width="40" height="62" rx="4" fill="#43b83e"/>
<path d="M1172 975 C1185 985 1188 1010 1188 1025" stroke="#b5dc1c" stroke-width="9" fill="none" stroke-linecap="round"/>
<path d="M1140 980 L1128 995" stroke="#b5dc1c" stroke-width="8" stroke-linecap="round"/>
<circle cx="1188" cy="1030" r="4" fill="#f1a3a5"/>
<path d="M1142 975 L1150 972 L1178 1030 L1170 1034 Z" fill="#3a74c4"/>
<circle cx="1156" cy="952" r="16" fill="#f1a3a5"/>
<path d="M1138 950 C1140 932 1170 930 1174 946 C1160 940 1150 942 1138 950Z" fill="#262b33"/>
<circle cx="1149" cy="952" r="5" fill="none" stroke="#3db83f" stroke-width="1.6"/>
<circle cx="1163" cy="952" r="5" fill="none" stroke="#3db83f" stroke-width="1.6"/>
</g>
</svg>
</body></html>
